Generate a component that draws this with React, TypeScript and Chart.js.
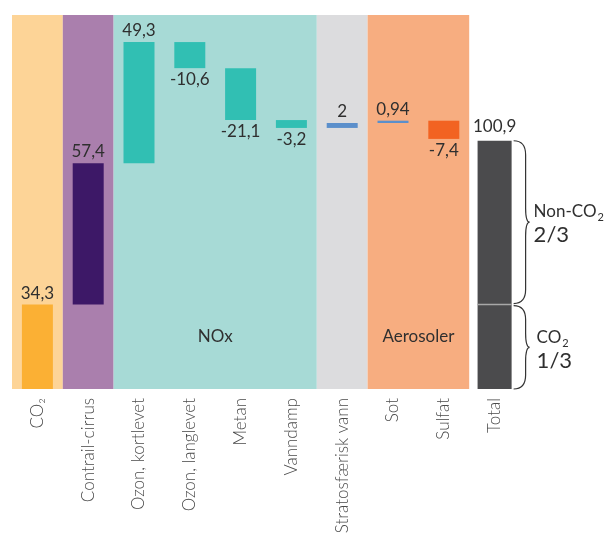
import React, { useEffect, useRef } from 'react';
import { Chart, registerables } from 'chart.js';

Chart.register(...registerables);

const categories = ['CO₂', 'Contrail-cirrus', 'Ozon, kortlevet', 'Ozon, langlevet', 'Metan', 'Vanndamp', 'Stratosfærisk vann', 'Sot', 'Sulfat', 'Total'];
const contributions = [34.3, 57.4, 49.3, -10.6, -21.1, -3.2, 2, 0.94, -7.4];
const totalValue = 100.9;
const co2Share = 34.3;
const valueLabels = ['34,3', '57,4', '49,3', '-10,6', '-21,1', '-3,2', '2', '0,94', '-7,4', '100,9'];
const barColors = ['#FBB034', '#3D1867', '#31BFB3', '#31BFB3', '#31BFB3', '#31BFB3', '#5B8FCB', '#5B8FCB', '#F26322'];
const totalColor = '#4B4B4D';
const groupLabels = ['', '', 'NOx', '', 'Aerosoler'];
const groupFrom = [0, 1, 2, 6, 7];
const groupTo = [0, 1, 5, 6, 8];
const groupColors = ['#FDD497', '#AA7FAD', '#A7DAD6', '#DCDCDE', '#F7AD80'];

const FONT = 'Lato, "Open Sans", "DejaVu Sans", sans-serif';

export default function App() {
  const ref = useRef<HTMLCanvasElement | null>(null);

  useEffect(() => {
    const canvas = ref.current;
    if (!canvas) return;

    const steps: ([number, number] | null)[] = [];
    let run = 0;
    contributions.forEach((v) => {
      steps.push([run, run + v]);
      run += v;
    });
    steps.push(null);
    const totals: ([number, number] | null)[] = categories.map((_, i) => (i === categories.length - 1 ? [0, totalValue] : null));

    const bandsPlugin = {
      id: 'bands',
      beforeDatasetsDraw(chart: any) {
        const { ctx, chartArea, scales } = chart;
        const xs = scales.x;
        const half = (xs.getPixelForValue(1) - xs.getPixelForValue(0)) / 2;
        ctx.save();
        groupFrom.forEach((f, gi) => {
          const x1 = xs.getPixelForValue(f) - half;
          const x2 = xs.getPixelForValue(groupTo[gi]) + half;
          ctx.fillStyle = groupColors[gi];
          ctx.fillRect(x1, chartArea.top, x2 - x1, chartArea.bottom - chartArea.top);
          if (groupLabels[gi]) {
            ctx.fillStyle = '#2F2F2F';
            ctx.font = `17px ${FONT}`;
            ctx.textAlign = 'center';
            ctx.textBaseline = 'middle';
            ctx.fillText(groupLabels[gi], (x1 + x2) / 2, chartArea.bottom - 52);
          }
        });
        ctx.restore();
      },
    };

    const labelsPlugin = {
      id: 'valueLabels',
      afterDatasetsDraw(chart: any) {
        const { ctx, scales } = chart;
        const ys = scales.y;
        ctx.save();
        ctx.font = `17px ${FONT}`;
        ctx.fillStyle = '#2F2F2F';
        ctx.textAlign = 'center';
        ctx.textBaseline = 'alphabetic';
        const m0 = chart.getDatasetMeta(0);
        const m1 = chart.getDatasetMeta(1);
        categories.forEach((_, i) => {
          const isTotal = i === categories.length - 1;
          const el = isTotal ? m1.data[i] : m0.data[i];
          if (!el) return;
          const top = Math.min(el.y, el.base);
          const bottom = Math.max(el.y, el.base);
          const v = isTotal ? totalValue : contributions[i];
          if (v >= 0) {
            ctx.fillText(valueLabels[i], el.x, top - (isTotal ? 9 : 6));
          } else {
            ctx.fillText(valueLabels[i], el.x, bottom + 17);
          }
        });

        const tel = m1.data[categories.length - 1];
        const halfW = tel.width / 2;
        const ySplit = ys.getPixelForValue(co2Share);
        const yTop = ys.getPixelForValue(totalValue);
        const yBot = ys.getPixelForValue(0);
        ctx.strokeStyle = '#A8A8A8';
        ctx.lineWidth = 1.5;
        ctx.beginPath();
        ctx.moveTo(tel.x - halfW, ySplit);
        ctx.lineTo(tel.x + halfW, ySplit);
        ctx.stroke();

        const x0 = tel.x + halfW + 2;
        const brace = (a: number, b: number) => {
          const mid = (a + b) / 2;
          const xv = x0 + 12;
          const xc = x0 + 16;
          const r = Math.min(14, (b - a) / 5);
          ctx.beginPath();
          ctx.moveTo(x0, a);
          ctx.quadraticCurveTo(xv, a, xv, a + r);
          ctx.lineTo(xv, mid - r);
          ctx.quadraticCurveTo(xv, mid, xc, mid);
          ctx.quadraticCurveTo(xv, mid, xv, mid + r);
          ctx.lineTo(xv, b - r);
          ctx.quadraticCurveTo(xv, b, x0, b);
          ctx.stroke();
          return mid;
        };
        ctx.strokeStyle = '#333';
        ctx.lineWidth = 1.2;
        const m1y = brace(yTop, ySplit - 1);
        const m2y = brace(ySplit + 1, yBot);

        const sub = (main: string, x: number, y: number) => {
          ctx.textAlign = 'left';
          ctx.font = `17px ${FONT}`;
          ctx.fillText(main, x, y);
          const w = ctx.measureText(main).width;
          ctx.font = `11px ${FONT}`;
          ctx.fillText('2', x + w + 1, y + 4);
        };
        ctx.fillStyle = '#2F2F2F';
        sub('Non-CO', x0 + 20, m1y - 5);
        ctx.font = `22px ${FONT}`;
        ctx.fillText('2/3', x0 + 20, m1y + 20);
        sub('CO', x0 + 23, m2y - 4);
        ctx.font = `22px ${FONT}`;
        ctx.fillText('1/3', x0 + 23, m2y + 21);
        ctx.restore();
      },
    };

    const chart = new Chart(canvas, {
      type: 'bar',
      data: {
        labels: categories,
        datasets: [
          {
            data: steps as any,
            backgroundColor: [...barColors, totalColor],
            barPercentage: 0.61,
            categoryPercentage: 1,
            grouped: false,
            borderSkipped: false,
          },
          {
            data: totals as any,
            backgroundColor: totalColor,
            barPercentage: 0.67,
            categoryPercentage: 1,
            grouped: false,
          },
        ],
      },
      options: {
        responsive: false,
        animation: false,
        layout: { padding: { left: 12, right: 86, top: 15, bottom: 0 } },
        plugins: { legend: { display: false }, tooltip: { enabled: false } },
        scales: {
          x: {
            grid: { display: false, drawTicks: false },
            border: { display: false },
            ticks: {
              autoSkip: false,
              minRotation: 90,
              maxRotation: 90,
              padding: 9,
              color: '#4A4A4A',
              font: { family: FONT, size: 17, weight: 300 as any },
            },
            afterFit: (scale: any) => {
              scale.height = 152;
            },
          },
          y: {
            display: false,
            min: 0,
            max: 152,
          },
        },
      },
      plugins: [bandsPlugin, labelsPlugin],
    });

    return () => chart.destroy();
  }, []);

  return (
    <div style={{ position: 'absolute', left: 0, top: 0, width: 606, height: 541 }}>
      <canvas ref={ref} width={606} height={541} style={{ display: 'block' }} />
    </div>
  );
}
